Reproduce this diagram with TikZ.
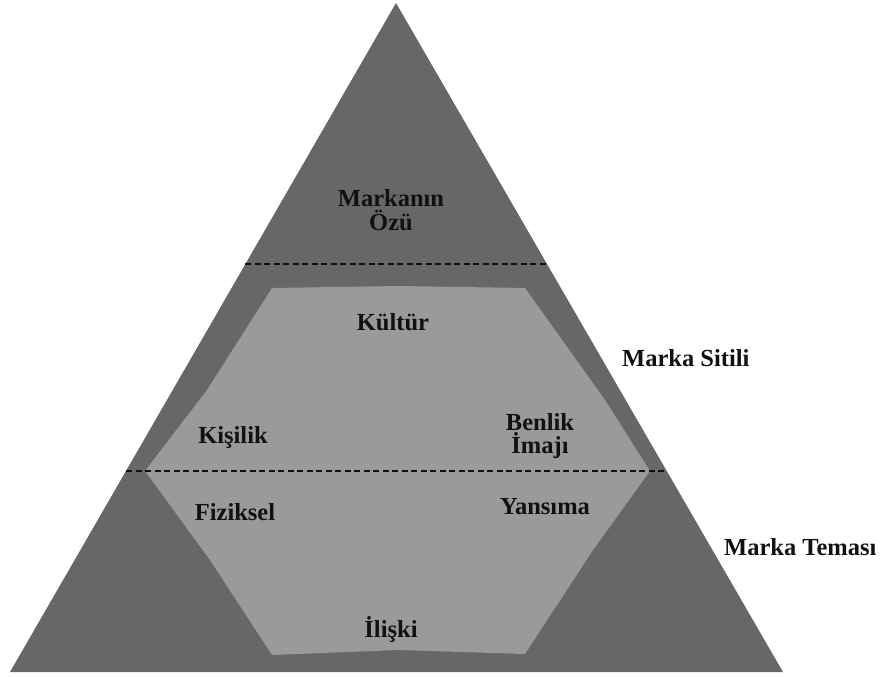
\documentclass[tikz,border=0pt]{standalone}
\usepackage{fontspec}
\setmainfont{Liberation Serif}
\usepackage{tikz}
\usetikzlibrary{calc}
\definecolor{slate}{HTML}{676767}
\definecolor{ash}  {HTML}{9A9A9A}
\definecolor{ink}  {HTML}{111111}
\tikzset{
  % --- areas
  outer/.style = {fill=slate, draw=none},
  inner/.style = {fill=ash, draw=none},
  % --- labels
  lbl/.style   = {font=\fontsize{24.5}{23.5}\selectfont\bfseries, text=ink,
                  align=center, inner sep=0pt},
  side/.style  = {lbl, anchor=west},
  % --- edges
  sep/.style   = {draw=ink, line width=1.8pt, dash pattern=on 6pt off 3.5pt},
}

\begin{document}
\begin{tikzpicture}[x=1pt, y=-1pt]
  \useasboundingbox (0,0) rectangle (884,677);
  \coordinate (apex) at (396,3);
  \coordinate (bl) at (10,672);
  \coordinate (br) at (783,672);

  \fill[outer] (apex) -- (br) -- (bl) -- cycle;
  \fill[inner] (272,288) -- (398,286) -- (525,288) -- (605,400) -- (650,471)
               -- (593,550) -- (525,654) -- (398,650) -- (272,655) -- (210,560)
               -- (145,471) -- (207,390) -- cycle;

  % separators
  \coordinate (s1l) at ($(apex)!0.39!(bl)$);
  \coordinate (s1r) at ($(apex)!0.39!(br)$);
  \coordinate (s2l) at ($(apex)!0.699!(bl)$);
  \coordinate (s2r) at ($(apex)!0.699!(br)$);
  \draw[sep] (s1l) -- (s1r);
  \draw[sep] (s2l) -- (s2r);

  \node[lbl] (essence)    at (391,210) {Markanın\\Özü};
  \node[lbl] (culture)    at (393,322) {Kültür};
  \node[lbl] (persona)    at (233,438) {Kişilik};
  \node[lbl] (selfimage)  at (540,436) {Benlik\\İmajı};
  \node[lbl] (physique)   at (235,512) {Fiziksel};
  \node[lbl] (reflection) at (545,507) {Yansıma};
  \node[lbl] (relation)   at (391,630) {İlişki};
  \node[side] (stylelbl)  at (622,358) {Marka Sitili};
  \node[side] (themelbl)  at (724,547) {Marka Teması};
\end{tikzpicture}
\end{document}
